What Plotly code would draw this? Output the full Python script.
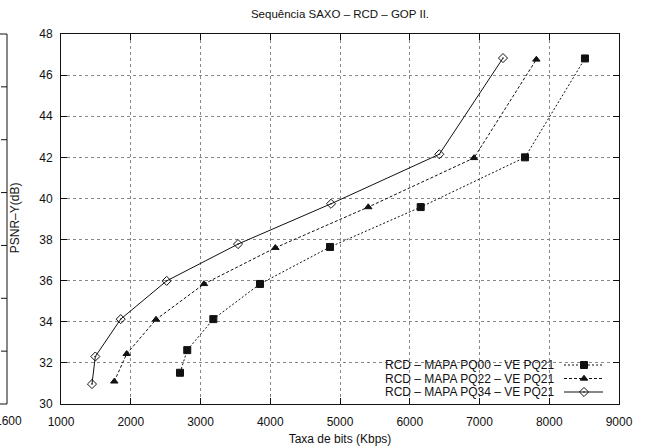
import plotly.graph_objects as go

# Bit rate (Kbps) and PSNR-Y (dB) for each configuration
rate_pq00 = [2706, 2810, 3184, 3853, 4857, 6157, 7652, 8512]
psnr_pq00 = [31.52, 32.62, 34.13, 35.84, 37.64, 39.58, 42.00, 46.81]

rate_pq22 = [1764, 1942, 2362, 3050, 4073, 5405, 6921, 7815]
psnr_pq22 = [31.10, 32.44, 34.11, 35.84, 37.60, 39.58, 41.97, 46.76]

rate_pq34 = [1444, 1492, 1856, 2515, 3538, 4871, 6424, 7337]
psnr_pq34 = [30.97, 32.31, 34.13, 35.99, 37.78, 39.74, 42.15, 46.83]

series_names = [
    "RCD \u2013 MAPA PQ00 \u2013 VE PQ21",
    "RCD \u2013 MAPA PQ22 \u2013 VE PQ21",
    "RCD \u2013 MAPA PQ34 \u2013 VE PQ21",
]
x_ticks = [1000, 2000, 3000, 4000, 5000, 6000, 7000, 8000, 9000]
y_ticks = [30, 32, 34, 36, 38, 40, 42, 44, 46, 48]

FONT = "Liberation Sans, Arial, sans-serif"
INK = "#111111"

W, H = 645, 447
ML, MR, MT, MB = 61, 26, 34, 43
PW, PH = W - ML - MR, H - MT - MB

styles = [
    dict(dash="2px,2px", symbol="square", size=7, color=INK),
    dict(dash="3px,2px", symbol="triangle-up", size=6.5, color=INK),
    dict(dash="solid", symbol="diamond-open-dot", size=7, color=INK),
]
data = [(rate_pq00, psnr_pq00), (rate_pq22, psnr_pq22), (rate_pq34, psnr_pq34)]

fig = go.Figure()
for (xs, ys), st in zip(data, styles):
    fig.add_trace(go.Scatter(
        x=xs, y=ys, mode="lines+markers", showlegend=False,
        line=dict(color=INK, width=1, dash=st["dash"]),
        marker=dict(symbol=st["symbol"], size=st["size"], color=INK,
                    line=dict(color=INK, width=1)),
    ))

# Opaque key box: hides the grid behind the key entries
fig.add_shape(type="rect", xref="paper", yref="paper", layer="between",
              x0=(378 - ML) / PW, x1=(612 - ML) / PW,
              y0=(H - MB - 398) / PH, y1=(H - MB - 357) / PH,
              fillcolor="white", line=dict(width=0))

# Key drawn in pixel units on an overlay axis pair: text on the left, sample on the right
row_y = [365, 378.5, 392]
for name, st, ry in zip(series_names, styles, row_y):
    fig.add_trace(go.Scatter(
        x=[564 - ML, 584 - ML, 603 - ML], y=[PH - (ry - MT)] * 3,
        xaxis="x2", yaxis="y2", mode="lines", showlegend=False,
        line=dict(color=INK, width=1, dash=st["dash"]), hoverinfo="skip",
    ))
    fig.add_trace(go.Scatter(
        x=[584 - ML], y=[PH - (ry - MT)], xaxis="x2", yaxis="y2",
        mode="markers", showlegend=False, hoverinfo="skip",
        marker=dict(symbol=st["symbol"], size=st["size"], color=INK,
                    line=dict(color=INK, width=1)),
    ))
    fig.add_annotation(
        text=name, xref="x2", yref="y2", x=557 - ML, y=PH - (ry - MT),
        xanchor="right", yanchor="middle", showarrow=False,
        font=dict(family=FONT, size=12, color=INK),
    )

axis_common = dict(
    showline=True, linecolor=INK, linewidth=1, mirror="ticks",
    ticks="inside", ticklen=6, tickcolor=INK, tickwidth=1,
    showgrid=True, gridcolor="#888888", griddash="dot", gridwidth=1,
    zeroline=False, automargin=False,
    tickfont=dict(family=FONT, size=12, color=INK),
)

fig.update_layout(
    width=W, height=H,
    margin=dict(l=ML, r=MR, t=MT, b=MB),
    paper_bgcolor="white", plot_bgcolor="white",
    title=dict(text="Sequ\u00eancia SAXO \u2013 RCD \u2013 GOP II.",
               x=(ML + PW / 2) / W, xanchor="center",
               y=1 - 14 / H, yanchor="middle",
               font=dict(family=FONT, size=11.5, color=INK)),
    xaxis=dict(range=[1000, 9000], tickvals=x_ticks, ticklabelstandoff=7,
               **axis_common,
               title=dict(text="Taxa de bits (Kbps)", standoff=6,
                          font=dict(family=FONT, size=12, color=INK))),
    yaxis=dict(range=[30, 48], tickvals=y_ticks, ticklabelstandoff=5,
               **axis_common),
    xaxis2=dict(range=[0, PW], overlaying="x", visible=False, fixedrange=True),
    yaxis2=dict(range=[0, PH], overlaying="y", visible=False, fixedrange=True),
)

fig.add_annotation(
    text="PSNR\u2013Y(dB)", xref="paper", yref="paper",
    x=(15 - ML) / PW, y=0.502, textangle=-90, showarrow=False,
    xanchor="center", yanchor="middle",
    font=dict(family=FONT, size=12, color=INK),
)

# Edge of the neighbouring panel on the left
edge_x = (7 - ML) / PW
fig.add_shape(type="line", xref="paper", yref="paper",
              x0=edge_x, x1=edge_x, y0=0, y1=1, line=dict(color=INK, width=1))
for k in range(1, 7):
    ty = 1 - k / 7
    fig.add_shape(type="line", xref="paper", yref="paper",
                  x0=edge_x - 6 / PW, x1=edge_x, y0=ty, y1=ty,
                  line=dict(color=INK, width=1))
fig.add_shape(type="line", xref="paper", yref="paper",
              x0=(0 - ML) / PW, x1=edge_x, y0=0, y1=0, line=dict(color=INK, width=1))
fig.add_shape(type="line", xref="paper", yref="paper",
              x0=(0 - ML) / PW, x1=edge_x, y0=1, y1=1, line=dict(color=INK, width=1))
fig.add_annotation(
    text="1600", xref="paper", yref="paper", x=edge_x + 1 / PW, y=0,
    yshift=-17, xanchor="center", yanchor="middle", showarrow=False,
    font=dict(family=FONT, size=12, color=INK),
)

fig.write_html("out.html")
